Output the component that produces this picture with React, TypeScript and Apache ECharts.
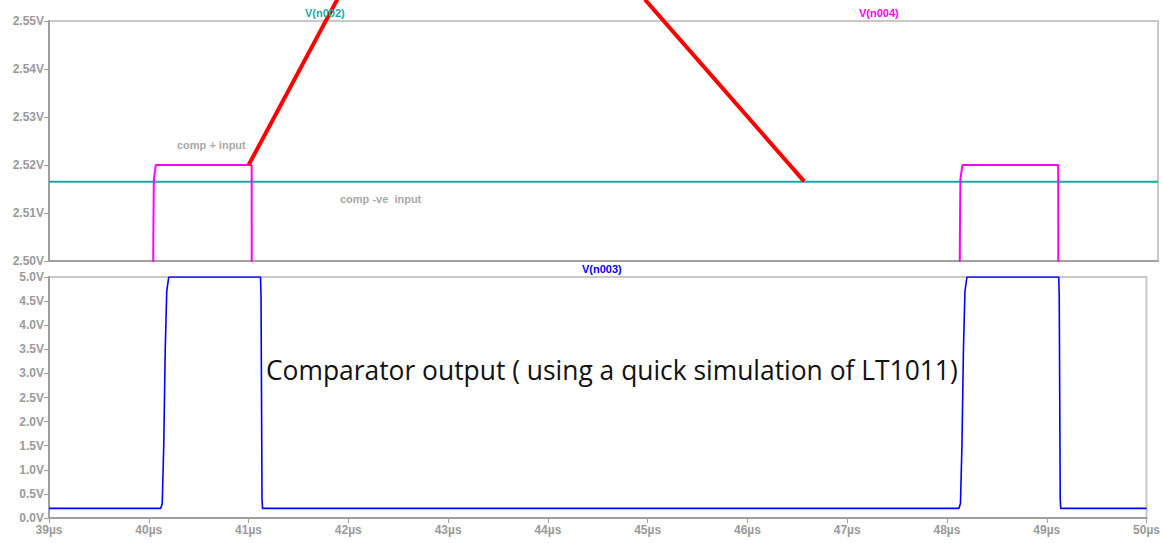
import React, { useEffect, useRef } from "react";
import * as echarts from "echarts";

const xTicks = { min: 39, max: 50, interval: 1 };
const topY = { min: 2.5, max: 2.55, interval: 0.01 };
const botY = { min: 0, max: 5, interval: 0.5 };

// V(n002): comparator -ve input (flat reference)
const n002: [number, number][] = [
  [39, 2.5165],
  [50, 2.5165],
];

// V(n004): comparator +ve input (pulses, low part below visible range)
const n004: [number, number][] = [
  [39, 2.48],
  [40.03, 2.48],
  [40.035, 2.505],
  [40.04, 2.517],
  [40.06, 2.52],
  [41.01, 2.52],
  [41.012, 2.48],
  [48.03, 2.48],
  [48.035, 2.505],
  [48.04, 2.517],
  [48.06, 2.52],
  [49.01, 2.52],
  [49.012, 2.48],
  [50, 2.48],
];

// V(n003): comparator output
const n003: [number, number][] = [
  [39, 0.2],
  [40.12, 0.2],
  [40.135, 0.3],
  [40.15, 1.5],
  [40.165, 3.5],
  [40.18, 4.7],
  [40.2, 5.0],
  [41.12, 5.0],
  [41.125, 4.6],
  [41.13, 2.5],
  [41.135, 0.4],
  [41.14, 0.2],
  [48.12, 0.2],
  [48.135, 0.3],
  [48.15, 1.5],
  [48.165, 3.5],
  [48.18, 4.7],
  [48.2, 5.0],
  [49.12, 5.0],
  [49.125, 4.6],
  [49.13, 2.5],
  [49.135, 0.4],
  [49.14, 0.2],
  [50, 0.2],
];

// red annotation pointers (drawn in the top pane's coordinates)
const pointerPlus: [number, number][] = [
  [40.98, 2.52],
  [41.86, 2.5545],
];
const pointerMinus: [number, number][] = [
  [44.91, 2.5545],
  [46.49, 2.5166],
];

const AXIS_GRAY = "#a0a0a0";
const LABEL_GRAY = "#9a9a9a";
const TEAL = "#17aaaa";
const MAGENTA = "#ff00ff";
const BLUE = "#0000ff";

export default function App() {
  const ref = useRef<HTMLDivElement>(null);

  useEffect(() => {
    if (!ref.current) return;
    const chart = echarts.init(ref.current, undefined, { renderer: "svg" });
    const axisLabelStyle = {
      color: LABEL_GRAY,
      fontFamily: "Liberation Sans, Arial, sans-serif",
      fontWeight: "bold" as const,
      fontSize: 12,
    };
    const xAxisBase = {
      type: "value" as const,
      min: xTicks.min,
      max: xTicks.max,
      interval: xTicks.interval,
      axisLine: { show: true, onZero: false, lineStyle: { color: AXIS_GRAY, width: 2 } },
      axisTick: { show: true, length: 5, lineStyle: { color: AXIS_GRAY, width: 1 } },
      splitLine: { show: false },
    };
    const yAxisBase = {
      type: "value" as const,
      axisLine: { show: true, onZero: false, lineStyle: { color: AXIS_GRAY, width: 2 } },
      axisTick: { show: true, length: 5, lineStyle: { color: AXIS_GRAY, width: 1 } },
      splitLine: { show: false },
    };
    chart.setOption({
      animation: false,
      backgroundColor: "#ffffff",
      grid: [
        { left: 49, top: 21, width: 1109, height: 240, show: true, borderColor: "#c8c8c8", borderWidth: 2, containLabel: false },
        { left: 49, top: 277, width: 1109, height: 241, show: true, borderColor: "#c8c8c8", borderWidth: 2, containLabel: false },
      ],
      xAxis: [
        { ...xAxisBase, gridIndex: 0, axisTick: { show: false }, axisLabel: { show: false } },
        {
          ...xAxisBase,
          gridIndex: 1,
          axisLabel: { ...axisLabelStyle, margin: 6, formatter: (v: number) => `${v}µs`, showMaxLabel: true },
        },
      ],
      yAxis: [
        {
          ...yAxisBase,
          gridIndex: 0,
          min: topY.min,
          max: topY.max,
          interval: topY.interval,
          axisLabel: { ...axisLabelStyle, margin: 5, formatter: (v: number) => `${v.toFixed(2)}V` },
        },
        {
          ...yAxisBase,
          gridIndex: 1,
          min: botY.min,
          max: botY.max,
          interval: botY.interval,
          axisLabel: { ...axisLabelStyle, margin: 5, formatter: (v: number) => `${v.toFixed(1)}V` },
        },
      ],
      series: [
        {
          name: "V(n002)",
          type: "line",
          xAxisIndex: 0,
          yAxisIndex: 0,
          data: n002,
          showSymbol: false,
          lineStyle: { color: TEAL, width: 2 },
          clip: true,
        },
        {
          name: "V(n004)",
          type: "line",
          xAxisIndex: 0,
          yAxisIndex: 0,
          data: n004,
          showSymbol: false,
          lineStyle: { color: MAGENTA, width: 2 },
          clip: true,
        },
        {
          name: "V(n003)",
          type: "line",
          xAxisIndex: 1,
          yAxisIndex: 1,
          data: n003,
          showSymbol: false,
          lineStyle: { color: BLUE, width: 1.6 },
          clip: true,
        },
        {
          name: "pointer+",
          type: "line",
          xAxisIndex: 0,
          yAxisIndex: 0,
          data: pointerPlus,
          showSymbol: false,
          lineStyle: { color: "#ff0000", width: 4 },
          clip: false,
          z: 5,
        },
        {
          name: "pointer-",
          type: "line",
          xAxisIndex: 0,
          yAxisIndex: 0,
          data: pointerMinus,
          showSymbol: false,
          lineStyle: { color: "#ff0000", width: 4 },
          clip: false,
          z: 5,
        },
      ],
      graphic: [
        {
          type: "text",
          left: 305,
          top: 7,
          z: 10,
          style: { text: "V(n002)", fill: TEAL, font: "bold 11px Liberation Sans, Arial, sans-serif" },
        },
        {
          type: "text",
          left: 859,
          top: 7,
          z: 10,
          style: { text: "V(n004)", fill: MAGENTA, font: "bold 11px Liberation Sans, Arial, sans-serif" },
        },
        {
          type: "text",
          left: 582,
          top: 263,
          z: 10,
          style: { text: "V(n003)", fill: BLUE, font: "bold 11px Liberation Sans, Arial, sans-serif" },
        },
        {
          type: "text",
          left: 177,
          top: 139,
          z: 10,
          style: { text: "comp + input", fill: "#a8a8a8", font: "bold 11px Liberation Sans, Arial, sans-serif" },
        },
        {
          type: "text",
          left: 340,
          top: 193,
          z: 10,
          style: { text: "comp -ve  input", fill: "#a8a8a8", font: "bold 11px Liberation Sans, Arial, sans-serif" },
        },
        {
          type: "text",
          left: 266,
          top: 357,
          z: 10,
          style: {
            text: "Comparator output ( using a quick simulation of LT1011)",
            fill: "#111111",
            font: "26.4px 'Open Sans', 'Noto Sans', sans-serif",
          },
        },
      ],
    });
    return () => chart.dispose();
  }, []);

  return (
    <div
      ref={ref}
      style={{ position: "fixed", left: 0, top: 0, width: 1163, height: 543, background: "#fff" }}
    />
  );
}
